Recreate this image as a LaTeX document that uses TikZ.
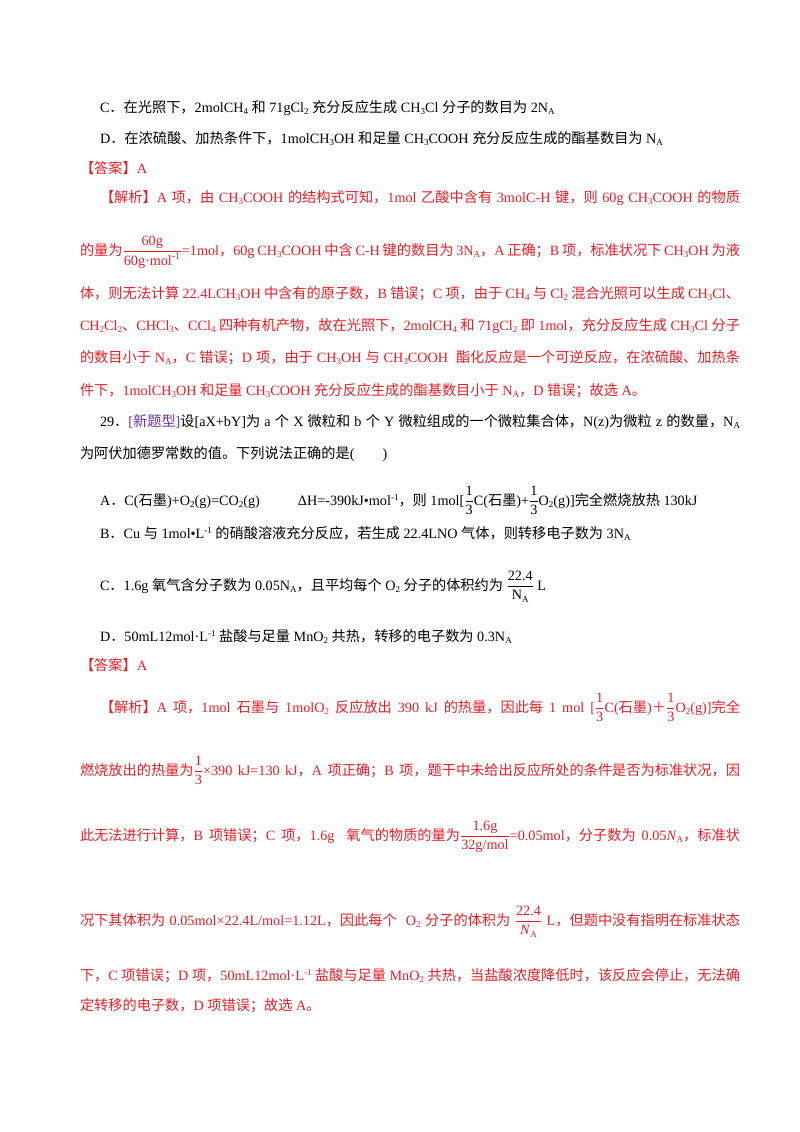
\documentclass[tikz,border=0pt]{standalone}
\usepackage{amsmath}
\usepackage{fontspec}
\setmainfont{Liberation Serif}
\newfontfamily\cjk{Noto Sans CJK SC}
\newfontfamily\latinf{Liberation Serif}
\XeTeXinterchartokenstate=1
\newXeTeXintercharclass\cjkclass
\newcount\cc
\cc="4E00 \loop \XeTeXcharclass\cc=\cjkclass \advance\cc 1 \ifnum\cc<"A000 \repeat
\cc="3000 \loop \XeTeXcharclass\cc=\cjkclass \advance\cc 1 \ifnum\cc<"3040 \repeat
\cc="FF00 \loop \XeTeXcharclass\cc=\cjkclass \advance\cc 1 \ifnum\cc<"FFF0 \repeat
\XeTeXinterchartoks 0 \cjkclass = {\cjk}
\XeTeXinterchartoks 4095 \cjkclass = {\cjk}
\XeTeXinterchartoks \cjkclass 0 = {\latinf}
\XeTeXinterchartoks \cjkclass 4095 = {\latinf}
\XeTeXlinebreaklocale "zh"
\XeTeXlinebreakskip=0pt plus 3pt minus 0.5pt
\newcommand\sbs[1]{\raisebox{-0.35ex}{\fontsize{9}{9}\selectfont #1}}
\newcommand\sps[1]{\raisebox{0.75ex}{\fontsize{9}{9}\selectfont #1}}
\newcommand\fl[2]{\hbox to #1{#2}}
\newcommand\tf[1]{\text{#1}}
\definecolor{ansred}{RGB}{235,28,36}
\definecolor{tagpurple}{RGB}{112,48,160}
\begin{document}
\begin{tikzpicture}[x=1pt,y=-1pt,
  every node/.style={inner sep=0pt,outer sep=0pt,anchor=base west,font=\fontsize{14.2}{17}\selectfont},
  red/.style={text=ansred}]
\useasboundingbox (0,0) rectangle (800,1132);
\node (l1) at (100,112) {C．在光照下，2molCH\sbs{4} 和 71gCl\sbs{2} 充分反应生成 CH\sbs{3}Cl 分子的数目为 2N\sbs{A}};
\node (l2) at (100,143) {D．在浓硫酸、加热条件下，1molCH\sbs{3}OH 和足量 CH\sbs{3}COOH 充分反应生成的酯基数目为 N\sbs{A}};
\node[red] (l3) at (80,173) {【答案】A};
\node[red] (l4) at (100,202) {\fl{640pt}{【解析】A 项，由 CH\sbs{3}COOH 的结构式可知，1mol 乙酸中含有 3molC-H 键，则 60g CH\sbs{3}COOH 的物质}};
\node[red] (l5) at (80,255) {\fl{660pt}{的量为$\dfrac{\tf{60g}}{\tf{60g·mol}^{\tf{-1}}}$=1mol，60g CH\sbs{3}COOH 中含 C-H 键的数目为 3N\sbs{A}，A 正确；B 项，标准状况下 CH\sbs{3}OH 为液}};
\node[red] (l6) at (80,298) {\fl{660pt}{体，则无法计算 22.4LCH\sbs{3}OH 中含有的原子数，B 错误；C 项，由于 CH\sbs{4} 与 Cl\sbs{2} 混合光照可以生成 CH\sbs{3}Cl、}};
\node[red] (l7) at (80,330) {\fl{660pt}{CH\sbs{2}Cl\sbs{2}、CHCl\sbs{3}、CCl\sbs{4} 四种有机产物，故在光照下，2molCH\sbs{4} 和 71gCl\sbs{2} 即 1mol，充分反应生成 CH\sbs{3}Cl 分子}};
\node[red] (l8) at (80,362) {\fl{660pt}{的数目小于 N\sbs{A}，C 错误；D 项，由于 CH\sbs{3}OH 与 CH\sbs{3}COOH\ \ 酯化反应是一个可逆反应，在浓硫酸、加热条}};
\node[red] (l9) at (80,395) {件下，1molCH\sbs{3}OH 和足量 CH\sbs{3}COOH 充分反应生成的酯基数目小于 N\sbs{A}，D 错误；故选 A。};
\node (l10) at (100,426) {\fl{640pt}{29．\textcolor{tagpurple}{[新题型]}设[aX+bY]为 a 个 X 微粒和 b 个 Y 微粒组成的一个微粒集合体，N(z)为微粒 z 的数量，N\sbs{A}}};
\node (l11) at (80,458) {为阿伏加德罗常数的值。下列说法正确的是(\hspace{28pt})};
\node (l12) at (100,505) {A．C(石墨)+O\sbs{2}(g)=CO\sbs{2}(g)\hspace{38pt}ΔH=-390kJ•mol\sps{-1}，则 1mol[$\dfrac{\tf{1}}{\tf{3}}$C(石墨)+$\dfrac{\tf{1}}{\tf{3}}$O\sbs{2}(g)]完全燃烧放热 130kJ};
\node (l13) at (100,538) {B．Cu 与 1mol•L\sps{-1} 的硝酸溶液充分反应，若生成 22.4LNO 气体，则转移电子数为 3N\sbs{A}};
\node (l14) at (100,590) {C．1.6g 氧气含分子数为 0.05N\sbs{A}，且平均每个 O\sbs{2} 分子的体积约为 $\dfrac{\tf{22.4}}{\tf{N\sbs{A}}}$ L};
\node (l15) at (100,641) {D．50mL12mol·L\sps{-1} 盐酸与足量 MnO\sbs{2} 共热，转移的电子数为 0.3N\sbs{A}};
\node[red] (l16) at (80,670) {【答案】A};
\node[red] (l17) at (100,712) {\fl{640pt}{【解析】A 项，1mol 石墨与 1molO\sbs{2} 反应放出 390 kJ 的热量，因此每 1 mol [$\dfrac{\tf{1}}{\tf{3}}$C(石墨)＋$\dfrac{\tf{1}}{\tf{3}}$O\sbs{2}(g)]完全}};
\node[red] (l18) at (80,775) {\fl{660pt}{燃烧放出的热量为$\dfrac{\tf{1}}{\tf{3}}$×390 kJ=130 kJ，A 项正确；B 项，题干中未给出反应所处的条件是否为标准状况，因}};
\node[red] (l19) at (80,840) {\fl{660pt}{此无法进行计算，B 项错误；C 项，1.6g\ \ 氧气的物质的量为$\dfrac{\tf{1.6g}}{\tf{32g/mol}}$=0.05mol，分子数为 0.05\textit{N}\sbs{A}，标准状}};
\node[red] (l20) at (80,925) {\fl{660pt}{况下其体积为 0.05mol×22.4L/mol=1.12L，因此每个\ \ O\sbs{2} 分子的体积为 $\dfrac{\tf{22.4}}{\tf{\textit{N}\sbs{A}}}$ L，但题中没有指明在标准状态}};
\node[red] (l21) at (80,980) {\fl{660pt}{下，C 项错误；D 项，50mL12mol·L\sps{-1} 盐酸与足量 MnO\sbs{2} 共热，当盐酸浓度降低时，该反应会停止，无法确}};
\node[red] (l22) at (80,1010) {定转移的电子数，D 项错误；故选 A。};
\end{tikzpicture}
\end{document}
